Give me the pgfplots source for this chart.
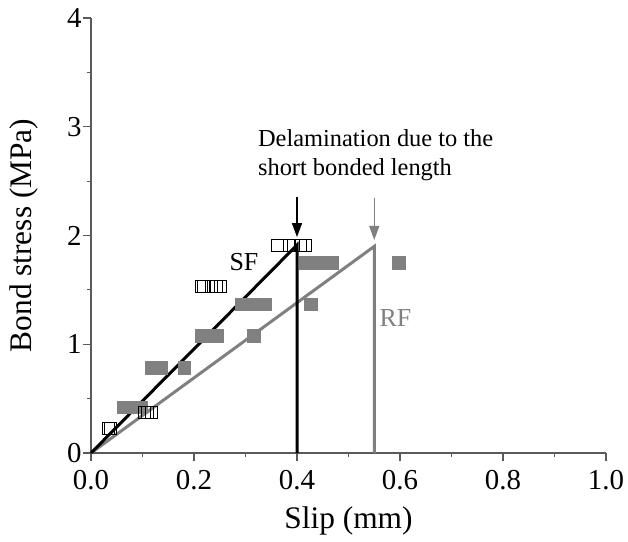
\documentclass[border=0pt]{standalone}
\usepackage{pgfplots}
\pgfplotsset{compat=1.18}
\usepackage{fontspec}
\setmainfont{Liberation Serif}
\usetikzlibrary{arrows.meta}

\definecolor{rfgray}{RGB}{128,128,128}
\definecolor{axgray}{RGB}{90,90,90}

% SF specimens (open squares)
\pgfplotstableread{
x y
0.033 0.225
0.038 0.225
0.103 0.377
0.110 0.377
0.117 0.377
0.214 1.53
0.219 1.53
0.233 1.53
0.243 1.53
0.252 1.53
0.363 1.913
0.385 1.913
0.394 1.913
0.406 1.913
0.417 1.913
}\sfdata

% RF specimens (filled squares)
\pgfplotstableread{
x y
0.062 0.423
0.075 0.423
0.088 0.423
0.097 0.423
0.117 0.786
0.127 0.786
0.136 0.786
0.181 0.786
0.214 1.08
0.230 1.08
0.245 1.08
0.316 1.08
0.292 1.37
0.305 1.37
0.320 1.37
0.337 1.37
0.426 1.37
0.416 1.75
0.430 1.75
0.444 1.75
0.456 1.75
0.468 1.75
0.597 1.75
}\rfdata

\begin{document}
\begin{tikzpicture}
\useasboundingbox (-91bp,-89bp) rectangle (537bp,453bp);
\begin{axis}[
  scale only axis,
  width=515bp, height=435bp,
  xmin=0, xmax=1, ymin=0, ymax=4,
  axis lines*=left,
  axis line style={axgray, line width=1.2bp},
  tick align=outside,
  major tick length=8bp,
  minor tick length=4bp,
  every tick/.style={axgray, line width=1.1bp},
  xtick={0,0.2,...,1.0},
  ytick={0,1,2,3,4},
  minor x tick num=1,
  minor y tick num=1,
  xticklabel style={/pgf/number format/.cd, fixed, fixed zerofill, precision=1},
  /pgf/number format/assume math mode=true,
  ticklabel style={font=\fontsize{29}{29}\selectfont},
  xticklabel shift=6bp,
  yticklabel shift=-2bp,
  label style={font=\fontsize{31.5}{31.5}\selectfont},
  xlabel={Slip (mm)},
  ylabel={Bond stress (MPa)},
  xlabel shift=10bp,
  ylabel shift=22bp,
  clip=false,
]
% bilinear models
\addplot[rfgray, line width=3bp] coordinates {(0,0) (0.55,1.9) (0.55,0)};
\addplot[black, line width=3bp] coordinates {(0,0) (0.4,1.913) (0.4,0)};

% test results
\addplot[only marks, mark=square*, mark size=6.3bp,
  mark options={fill=rfgray, draw=rfgray, line width=0.1bp}] table {\rfdata};
\addplot[only marks, mark=square, mark size=6bp,
  mark options={draw=black, line width=0.9bp}] table {\sfdata};

% failure markers
\draw[black, line width=1.5bp, -{Triangle[length=14bp,width=10bp]}]
  (axis cs:0.4,2.354) -- (axis cs:0.4,1.986);
\draw[rfgray, line width=1.5bp, -{Triangle[length=14bp,width=10bp]}]
  (axis cs:0.55,2.345) -- (axis cs:0.55,1.959);

\node[anchor=base west, inner sep=0pt, font=\fontsize{24.5}{24.5}\selectfont]
  at (axis cs:0.324,2.814) {Delamination due to the};
\node[anchor=base west, inner sep=0pt, font=\fontsize{24.5}{24.5}\selectfont]
  at (axis cs:0.324,2.556) {short bonded length};

\node[font=\fontsize{26}{26}\selectfont, inner sep=0pt] at (axis cs:0.297,1.752) {SF};
\node[font=\fontsize{26}{26}\selectfont, inner sep=0pt, text=rfgray] at (axis cs:0.591,1.24) {RF};
\end{axis}
\end{tikzpicture}
\end{document}
